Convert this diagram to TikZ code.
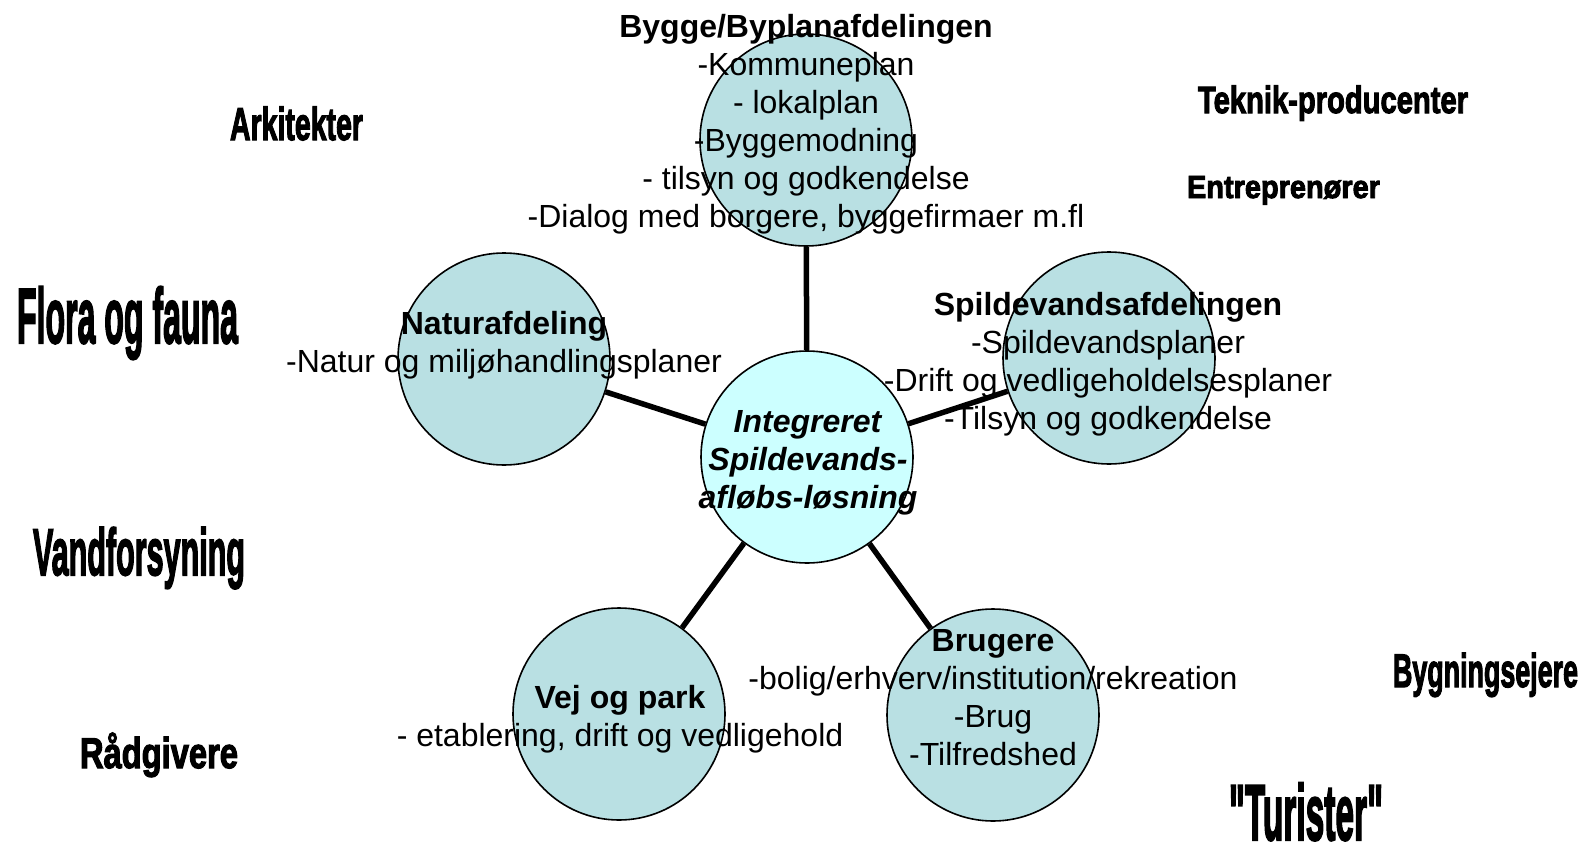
\documentclass[tikz,border=0pt]{standalone}
\usepackage{fontspec}
\usepackage{graphicx}
\setmainfont{Liberation Sans}
\newfontfamily\bigfont[FakeBold=3]{Liberation Sans Bold}
\usetikzlibrary{backgrounds}
\definecolor{cfill}{HTML}{B9E0E3}
\definecolor{cfillc}{HTML}{CCFFFF}
\tikzset{
  dept/.style={circle, draw=black, line width=1.6pt, fill=cfill, minimum size=212pt, inner sep=0pt},
  core/.style={dept, fill=cfillc},
  dtext/.style={align=center, inner sep=0pt, font=\fontsize{32}{38}\selectfont},
  link/.style={line width=5.5pt, black},
  olab/.style={anchor=base, inner sep=0pt},
}
\newcommand{\olbl}[3]{{\bigfont\fontsize{#1}{#1}\selectfont\resizebox{#2pt}{\height}{#3}}}
\begin{document}
\begin{tikzpicture}[x=1pt,y=-1pt]
\useasboundingbox (0,0) rectangle (1583,854);
% circles
\node[core] (c) at (807,457) {};
\node[dept] (bygge) at (806,140) {};
\node[dept] (natur) at (504,359) {};
\node[dept] (spild) at (1109,358) {};
\node[dept] (vej) at (619,714) {};
\node[dept] (brug) at (993,715) {};
% connectors
\begin{pgfonlayer}{background}
\draw[link] (c) -- (bygge);
\draw[link] (c) -- (natur);
\draw[link] (c) -- (spild);
\draw[link] (c) -- (vej);
\draw[link] (c) -- (brug);
\end{pgfonlayer}
% texts
\node[dtext] (tc) at (808,463) {\textbf{\textit{Integreret}}\\\textbf{\textit{Spildevands-}}\\\textbf{\textit{afløbs-løsning}}};
\node[dtext] (tbygge) at (806,124) {\textbf{Bygge/Byplanafdelingen}\\-Kommuneplan\\- lokalplan\\-Byggemodning\\- tilsyn og godkendelse\\-Dialog med borgere, byggefirmaer m.fl};
\node[dtext] (tnatur) at (504,345) {\textbf{Naturafdeling}\\-Natur og miljøhandlingsplaner};
\node[dtext] (tspild) at (1108,364) {\textbf{Spildevandsafdelingen}\\-Spildevandsplaner\\-Drift og vedligeholdelsesplaner\\-Tilsyn og godkendelse};
\node[dtext] (tvej) at (620,719) {\textbf{Vej og park}\\- etablering, drift og vedligehold};
\node[dtext] (tbrug) at (993,698) {\textbf{Brugere}\\-bolig/erhverv/institution/rekreation\\-Brug\\-Tilfredshed};
% outer labels
\node[olab] (ark) at (296.5,140) {\olbl{46}{133}{Arkitekter}};
\node[olab] (flora) at (127.5,343) {\olbl{78}{221}{Flora og fauna}};
\node[olab] (vand) at (139,575) {\olbl{66}{212}{Vandforsyning}};
\node[olab] (raad) at (159,768) {\olbl{43}{158}{Rådgivere}};
\node[olab] (tek) at (1333,113) {\olbl{38}{270}{Teknik-producenter}};
\node[olab] (entr) at (1283.5,198) {\olbl{32}{193}{Entreprenører}};
\node[olab] (byg) at (1485.5,687) {\olbl{47}{185}{Bygningsejere}};
\node[olab] (tur) at (1306,840) {\olbl{79}{154}{"Turister"}};
\end{tikzpicture}
\end{document}
